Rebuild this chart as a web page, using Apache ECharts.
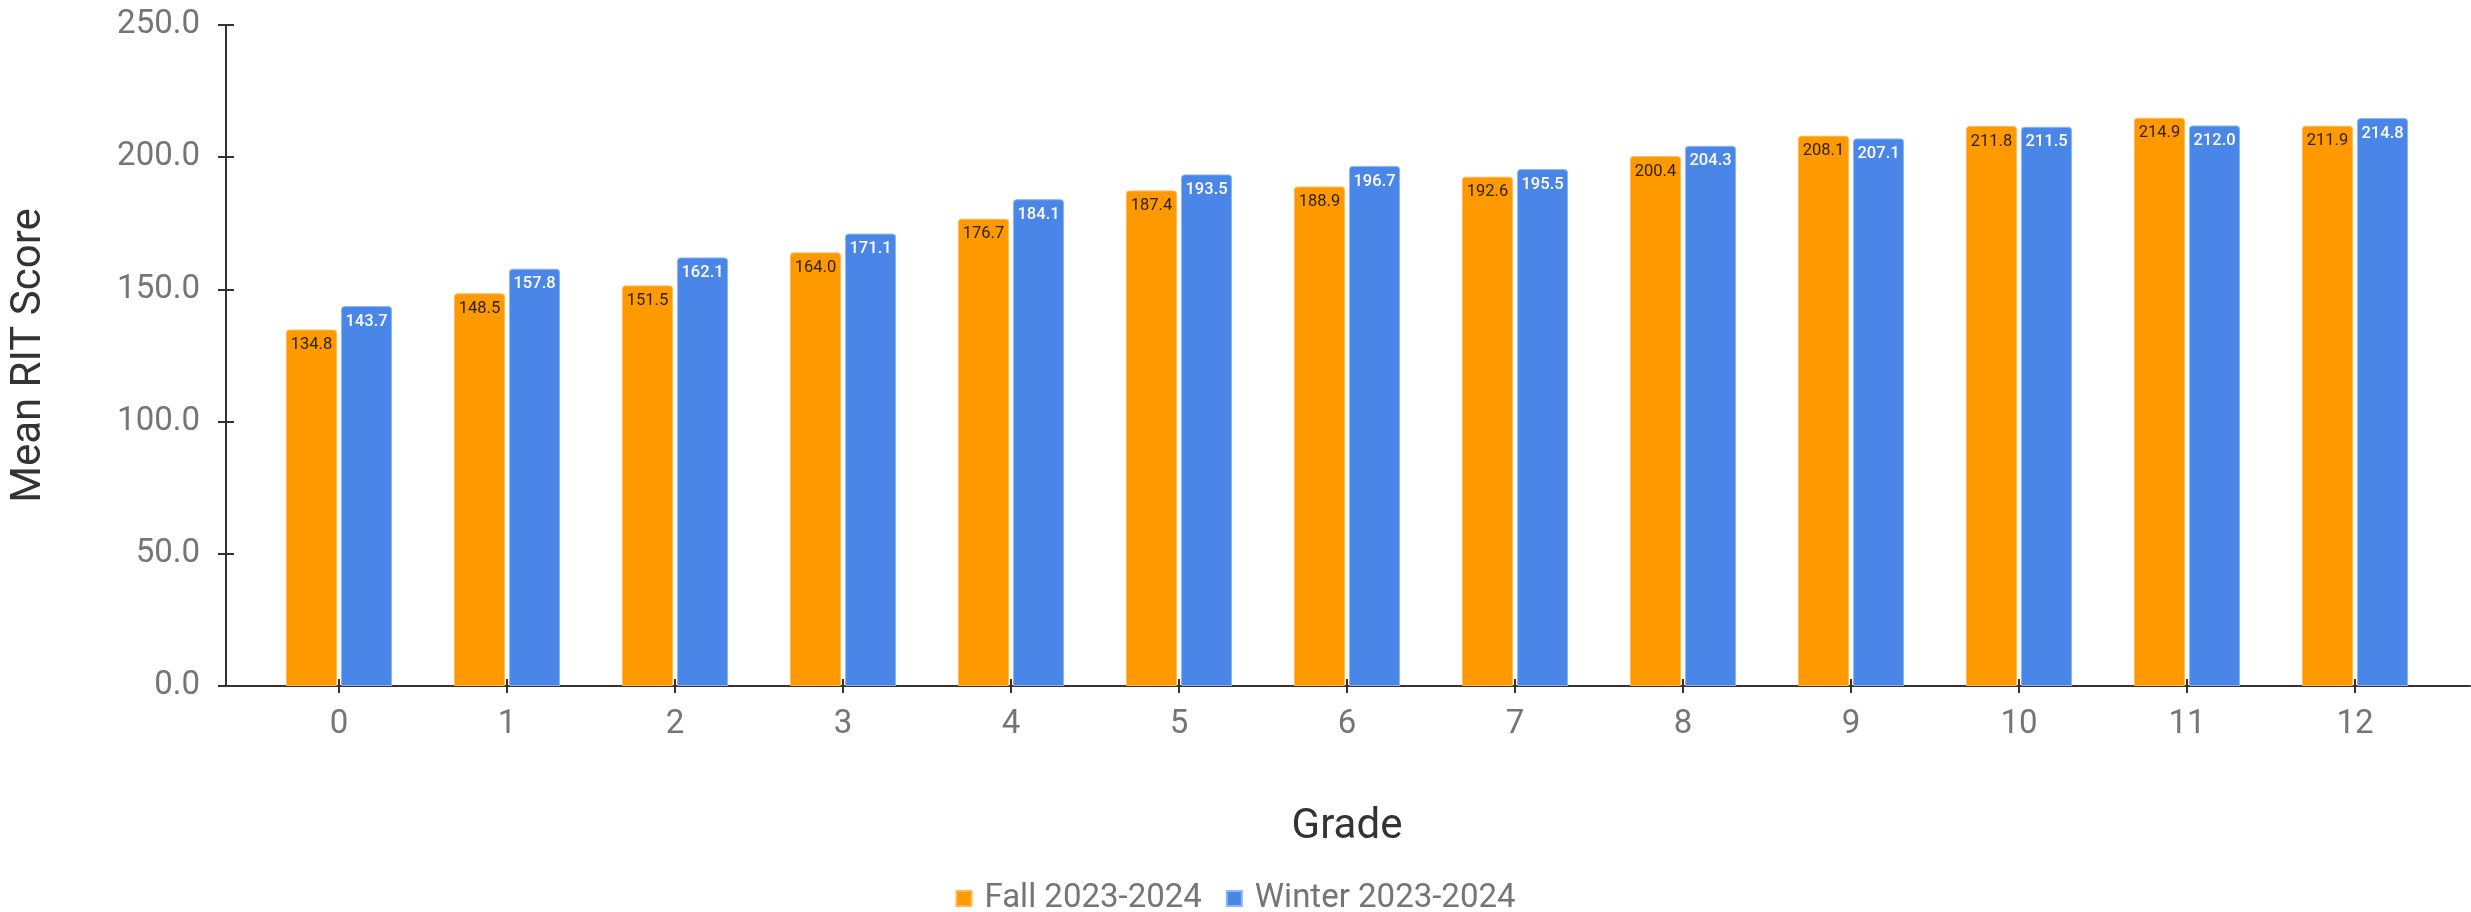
<!DOCTYPE html>
<html>
<head>
<meta charset="utf-8">
<script src="https://cdn.jsdelivr.net/npm/echarts@6/dist/echarts.min.js"></script>
<style>
html,body{margin:0;padding:0;background:#fff;}
#chart{width:2471px;height:912px;}
</style>
</head>
<body>
<div id="chart"></div>
<script>
const grades = ['0','1','2','3','4','5','6','7','8','9','10','11','12'];
const fall = [134.8,148.5,151.5,164.0,176.7,187.4,188.9,192.6,200.4,208.1,211.8,214.9,211.9];
const winter = [143.7,157.8,162.1,171.1,184.1,193.5,196.7,195.5,204.3,207.1,211.5,212.0,214.8];
const seriesNames = ['Fall 2023-2024','Winter 2023-2024'];
const yTicks = {min:0, max:250, interval:50};

const FONT = 'Roboto';
const chart = echarts.init(document.getElementById('chart'), null, {renderer:'canvas'});
const axisColor = '#333333';
const labelGray = '#757575';

chart.setOption({
  backgroundColor:'#ffffff',
  animation:false,
  textStyle:{fontFamily:FONT},
  color:['#ff9900','#4a86e8'],
  legend:{
    data:seriesNames,
    left:'center',
    top:877,
    icon:'rect',
    itemWidth:15,
    itemHeight:15,
    itemGap:24,
    textStyle:{fontFamily:FONT,fontSize:33,color:labelGray,padding:[0,0,0,8]}
  },
  grid:[
    {left:252, right:32, top:25, bottom:226, containLabel:false},
    {left:223, right:1, top:25, bottom:226, containLabel:false}
  ],
  xAxis:[
    {
      type:'category', gridIndex:0, data:grades,
      name:'Grade', nameLocation:'middle', nameGap:120,
      nameTextStyle:{fontFamily:FONT,fontSize:42,color:'#333333'},
      axisLine:{show:true,lineStyle:{color:axisColor,width:2}},
      axisTick:{show:true,alignWithLabel:true,length:7,lineStyle:{color:axisColor,width:2}},
      axisLabel:{fontFamily:FONT,fontSize:33,color:labelGray,margin:22}
    },
    {
      type:'category', gridIndex:0, data:grades, position:'bottom',
      axisLine:{show:false},
      axisTick:{show:true,inside:true,alignWithLabel:true,length:7,lineStyle:{color:axisColor,width:2}},
      axisLabel:{show:false}
    },
    {
      type:'value', gridIndex:1, min:0, max:1,
      axisLine:{show:true,lineStyle:{color:axisColor,width:2}},
      axisTick:{show:false}, axisLabel:{show:false}, splitLine:{show:false}
    }
  ],
  yAxis:[
    {
      type:'value', gridIndex:0, min:yTicks.min, max:yTicks.max, interval:yTicks.interval,
      offset:29,
      name:'Mean RIT Score', nameLocation:'middle', nameGap:176,
      nameTextStyle:{fontFamily:FONT,fontSize:42,color:'#333333'},
      axisLine:{show:true,lineStyle:{color:axisColor,width:2}},
      axisTick:{show:true,length:8,lineStyle:{color:axisColor,width:2}},
      axisLabel:{fontFamily:FONT,fontSize:33,color:labelGray,margin:26,formatter:v=>v.toFixed(1)},
      splitLine:{show:false}
    },
    {
      type:'value', gridIndex:0, min:yTicks.min, max:yTicks.max, interval:yTicks.interval,
      offset:29, position:'left',
      axisLine:{show:false},
      axisTick:{show:true,inside:true,length:8,lineStyle:{color:axisColor,width:2}},
      axisLabel:{show:false}, splitLine:{show:false}
    },
    {
      type:'value', gridIndex:1, min:0, max:1, show:false
    }
  ],
  series:[
    {
      name:seriesNames[0], type:'bar', xAxisIndex:0, yAxisIndex:0,
      data:fall, barWidth:51, barGap:'8%',
      itemStyle:{color:'#ff9900',borderColor:'#ffb84d',borderWidth:1,borderRadius:[3,3,0,0]},
      label:{show:true,position:'insideTop',distance:7,fontFamily:FONT,fontSize:16.5,color:'#2e2200',
        formatter:p=>p.value.toFixed(1)}
    },
    {
      name:seriesNames[1], type:'bar', xAxisIndex:0, yAxisIndex:0,
      data:winter, barWidth:51, barGap:'8%',
      itemStyle:{color:'#4a86e8',borderColor:'#8fb5f0',borderWidth:1,borderRadius:[3,3,0,0]},
      label:{show:true,position:'insideTop',distance:7,fontFamily:FONT,fontSize:16.5,color:'#ffffff',fontWeight:500,
        formatter:p=>p.value.toFixed(1)}
    }
  ]
});
</script>
</body>
</html>
